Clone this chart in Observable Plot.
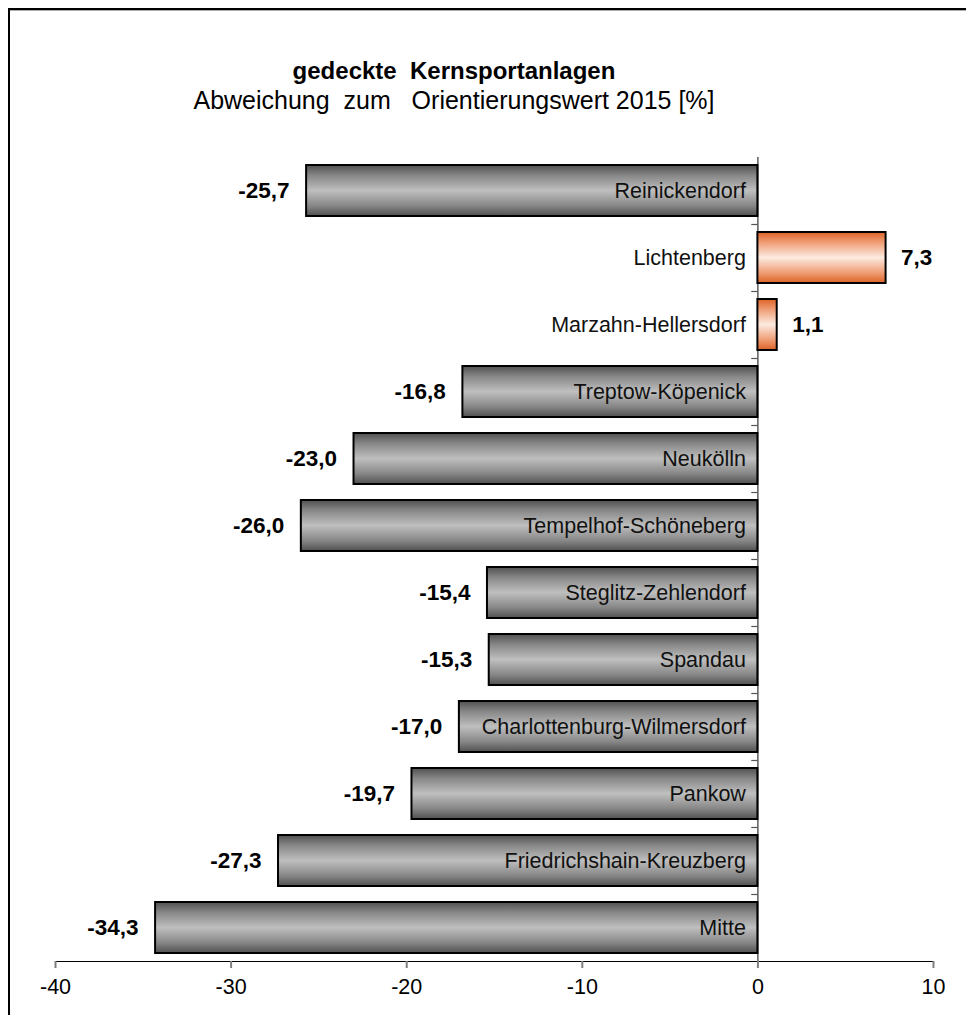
<!DOCTYPE html>
<html>
<head>
<meta charset="utf-8">
<script src="https://cdn.jsdelivr.net/npm/d3@7"></script>
<script src="https://cdn.jsdelivr.net/npm/@observablehq/plot@0.6"></script>
<style>
  html, body { margin: 0; padding: 0; background: #fff; }
  #wrap { position: relative; width: 966px; height: 1015px; overflow: hidden; font-family: "Liberation Sans", Arial, sans-serif; }
  #frame { position: absolute; left: 8px; top: 8px; width: 1000px; height: 1100px;
           border-left: 2px solid #000; border-top: 2px solid #000; box-shadow: 0 1px 0 #aaa inset; }
  .t1 { position: absolute; left: 0; width: 908px; text-align: center; white-space: pre; color: #000; }
  #title { top: 57px; font-size: 24px; font-weight: bold; }
  #subtitle { top: 86px; font-size: 25px; }
  #chart { position: absolute; left: 0; top: 140px; }
</style>
</head>
<body>
<div id="wrap">
  <div id="frame"></div>
  <div id="title" class="t1">gedeckte  Kernsportanlagen</div>
  <div id="subtitle" class="t1">Abweichung  zum   Orientierungswert 2015 [%]</div>
  <div id="chart"></div>
</div>
<script>
// Data (top to bottom as in the chart)
const districts = [
  "Reinickendorf", "Lichtenberg", "Marzahn-Hellersdorf", "Treptow-Köpenick",
  "Neukölln", "Tempelhof-Schöneberg", "Steglitz-Zehlendorf", "Spandau",
  "Charlottenburg-Wilmersdorf", "Pankow", "Friedrichshain-Kreuzberg", "Mitte"
];
const deviations = [-25.7, 7.3, 1.1, -16.8, -23.0, -26.0, -15.4, -15.3, -17.0, -19.7, -27.3, -34.3];
const xTicks = [-40, -30, -20, -10, 0, 10];
const xTickLabels = ["-40", "-30", "-20", "-10", "0", "10"];

const data = districts.map((name, i) => ({name, value: deviations[i]}));
const neg = data.filter(d => d.value < 0);
const pos = data.filter(d => d.value >= 0);
const fmt = v => v.toFixed(1).replace(".", ",");

const W = 966, H = 875;
const mTop = 17, mBottom = 54;
const step = (H - mTop - mBottom) / districts.length;

const defs = () => {
  const d = d3.create("svg:defs");
  const mk = (id, stops) => {
    const g = d.append("linearGradient").attr("id", id)
      .attr("x1", 0).attr("y1", 0).attr("x2", 0).attr("y2", 1);
    stops.forEach(([o, c]) => g.append("stop").attr("offset", o).attr("stop-color", c));
  };
  mk("gGrey", [[0, "#505050"], [0.2, "#868686"], [0.5, "#bfbfbf"], [0.8, "#868686"], [1, "#505050"]]);
  mk("gOrange", [[0, "#dc6226"], [0.2, "#ef9c73"], [0.5, "#fdebe1"], [0.8, "#ef9c73"], [1, "#dc6226"]]);
  return d.node();
};

const chart = Plot.plot({
  width: W,
  height: H,
  marginLeft: 55,
  marginRight: 33,
  marginTop: mTop,
  marginBottom: mBottom,
  style: {fontFamily: "Liberation Sans, Arial, sans-serif", background: "transparent"},
  x: {
    domain: [-40, 10],
    ticks: xTicks,
    tickFormat: (d) => xTickLabels[xTicks.indexOf(d)],
    tickSize: 7,
    tickPadding: 10,
    line: true,
    label: null
  },
  y: {domain: districts, paddingInner: 0.24, paddingOuter: 0.12, axis: null},
  marks: [
    defs,
    Plot.ruleX([0], {stroke: "#333", strokeWidth: 1.2}),
    Plot.ruleY(districts.slice(1), {y: d => d, x1: -0.35, x2: 0, dy: -step / 2, stroke: "#555", strokeWidth: 1.2}),
    Plot.barX(neg, {x: "value", y: "name", fill: "url(#gGrey)", stroke: "#000", strokeWidth: 2}),
    Plot.barX(pos, {x: "value", y: "name", fill: "url(#gOrange)", stroke: "#000", strokeWidth: 2}),
    Plot.text(data, {x: 0, y: "name", text: "name", textAnchor: "end", dx: -12, fontSize: 21.5, fill: "#111"}),
    Plot.text(neg, {x: "value", y: "name", text: d => fmt(d.value), textAnchor: "end",
      dx: -17, fontSize: 22.5, fontWeight: "bold", fill: "#000"}),
    Plot.text(pos, {x: "value", y: "name", text: d => fmt(d.value), textAnchor: "start",
      dx: 15, fontSize: 22.5, fontWeight: "bold", fill: "#000"}),
  ]
});

d3.select(chart).selectAll("g[aria-label='x-axis tick label']")
  .attr("font-size", 21.5).attr("fill", "#000");
d3.select(chart).selectAll("g[aria-label='x-axis tick'], g[aria-label='x-axis line']")
  .attr("stroke", "#808080").attr("stroke-width", 2);

document.getElementById("chart").appendChild(chart);
</script>
</body>
</html>
